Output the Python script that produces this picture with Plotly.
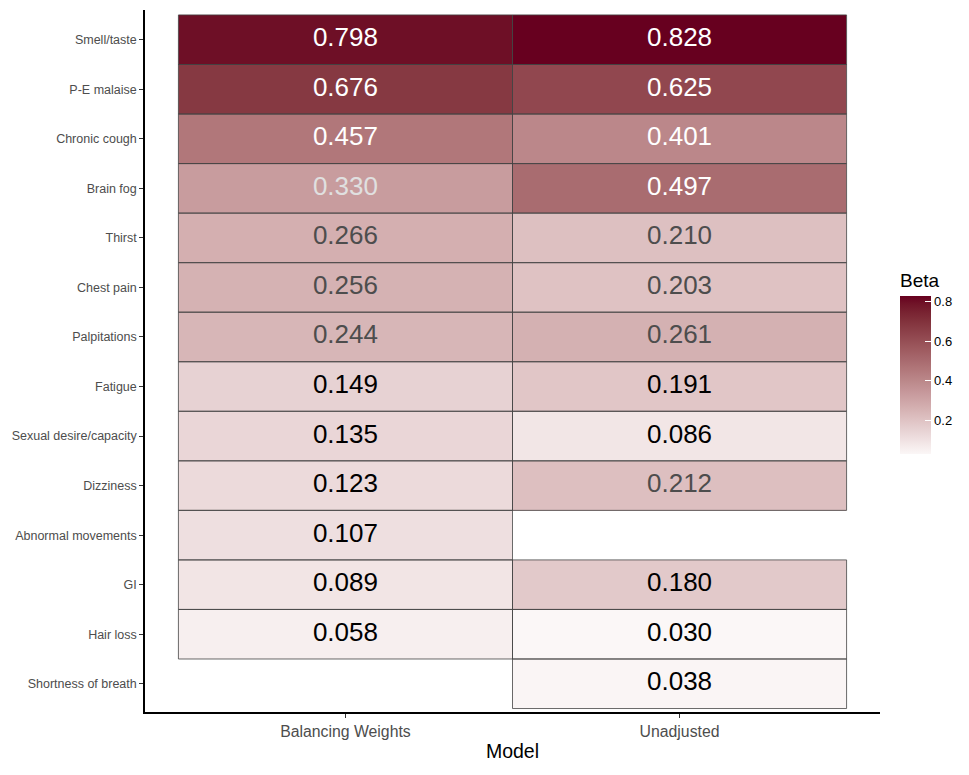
import plotly.graph_objects as go

symptoms = ["Smell/taste", "P-E malaise", "Chronic cough", "Brain fog", "Thirst",
            "Chest pain", "Palpitations", "Fatigue", "Sexual desire/capacity",
            "Dizziness", "Abnormal movements", "GI", "Hair loss", "Shortness of breath"]
models = ["Balancing Weights", "Unadjusted"]
beta_balancing = [0.798, 0.676, 0.457, 0.330, 0.266, 0.256, 0.244, 0.149, 0.135,
                  0.123, 0.107, 0.089, 0.058, None]
beta_unadjusted = [0.828, 0.625, 0.401, 0.497, 0.210, 0.203, 0.261, 0.191, 0.086,
                   0.212, None, 0.180, 0.030, 0.038]
colorbar_ticks = [0.2, 0.4, 0.6, 0.8]

series = [beta_balancing, beta_unadjusted]
vals = [v for s in series for v in s if v is not None]
zmin, zmax = min(vals), max(vals)


# --- Lab interpolation white -> #67001F (ggplot-like gradient) ---
def srgb_to_lin(c):
    c = c / 255
    return c / 12.92 if c <= 0.04045 else ((c + 0.055) / 1.055) ** 2.4


def lin_to_srgb(c):
    c = max(0, min(1, c))
    v = 12.92 * c if c <= 0.0031308 else 1.055 * c ** (1 / 2.4) - 0.055
    return int(round(max(0, min(1, v)) * 255))


WX, WY, WZ = 0.95047, 1.0, 1.08883


def rgb_to_lab(rgb):
    r, g, b = [srgb_to_lin(c) for c in rgb]
    x = 0.4124 * r + 0.3576 * g + 0.1805 * b
    y = 0.2126 * r + 0.7152 * g + 0.0722 * b
    z = 0.0193 * r + 0.1192 * g + 0.9505 * b

    def f(t):
        return t ** (1 / 3) if t > 0.008856 else 7.787 * t + 16 / 116
    fx, fy, fz = f(x / WX), f(y / WY), f(z / WZ)
    return 116 * fy - 16, 500 * (fx - fy), 200 * (fy - fz)


def lab_to_rgb(lab):
    L, a, b = lab
    fy = (L + 16) / 116
    fx = fy + a / 500
    fz = fy - b / 200

    def finv(t):
        return t ** 3 if t ** 3 > 0.008856 else (t - 16 / 116) / 7.787
    x, y, z = WX * finv(fx), WY * finv(fy), WZ * finv(fz)
    r = 3.2406 * x - 1.5372 * y - 0.4986 * z
    g = -0.9689 * x + 1.8758 * y + 0.0415 * z
    bb = 0.0557 * x - 0.2040 * y + 1.0570 * z
    return lin_to_srgb(r), lin_to_srgb(g), lin_to_srgb(bb)


low = rgb_to_lab((255, 255, 255))
high = rgb_to_lab((0x67, 0x00, 0x1F))
t_start = 0.03  # lowest tile is faintly tinted in the reference
colorscale = []
N = 20
for i in range(N + 1):
    s = i / N
    t = t_start + (1 - t_start) * s
    lab = tuple(low[k] + (high[k] - low[k]) * t for k in range(3))
    r, g, b = lab_to_rgb(lab)
    colorscale.append([s, f"rgb({r},{g},{b})"])

yidx = list(range(len(symptoms)))
xidx = list(range(len(models)))
z = [[series[j][i] for j in xidx] for i in yidx]

# page body has an 8px default margin; compensate so plot area lands at target pixels
OFF = 8
ML, MT = 145 - OFF, 10 - OFF
MR, MB = 969 - (880 - OFF), 775 - (712 - OFF)
PW, PH = 969 - ML - MR, 775 - MT - MB

fig = go.Figure()
fig.add_trace(go.Heatmap(
    x=xidx, y=yidx, z=z, zmin=zmin, zmax=zmax, colorscale=colorscale,
    hoverongaps=False,
    colorbar=dict(
        title=dict(text="Beta", side="top", font=dict(size=19, color="black")),
        thickness=31, len=184 / PH, lenmode="fraction",
        x=(900 - 145) / PW, xanchor="left", xpad=0,
        y=(712 - 270) / PH, yanchor="top", ypad=0,
        outlinewidth=0, tickvals=colorbar_ticks, ticktext=[f"{t:.1f}" for t in colorbar_ticks],
        ticks="inside", ticklen=6, tickcolor="white", tickwidth=1,
        tickfont=dict(size=13, color="black"),
    ),
))


def text_color(v):
    if v >= 0.4:
        return "white"
    if v >= 0.3:
        return "#e0e0e0"
    if v >= 0.2:
        return "#4d4d4d"
    return "black"


tx, ty, tt, tc = [], [], [], []
for j in xidx:
    for i in yidx:
        v = series[j][i]
        if v is None:
            continue
        tx.append(j)
        ty.append(i)
        tt.append(f"{v:.3f}")
        tc.append(text_color(v))
        fig.add_shape(type="rect", x0=j - 0.5, x1=j + 0.5, y0=i - 0.5, y1=i + 0.5,
                      xref="x", yref="y", line=dict(color="#444444", width=0.8),
                      fillcolor="rgba(0,0,0,0)", layer="above")

fig.add_trace(go.Scatter(x=tx, y=ty, text=tt, mode="text",
                         textfont=dict(size=26, color=tc, family="Liberation Sans, Arial"),
                         hoverinfo="skip", showlegend=False))

fig.update_layout(
    width=969, height=775,
    margin=dict(l=ML, r=MR, t=MT, b=MB, autoexpand=False),
    paper_bgcolor="white", plot_bgcolor="white",
    font=dict(family="Liberation Sans, Arial, sans-serif"),
    showlegend=False,
)
fig.update_xaxes(
    range=[-0.6, 1.6], tickvals=xidx, ticktext=models, automargin=False,
    showline=True, linecolor="black", linewidth=1.5, showgrid=False, zeroline=False,
    ticks="outside", ticklen=4, tickcolor="#333333",
    tickfont=dict(size=15.8, color="#4d4d4d"),
    title=dict(text="Model", font=dict(size=19.5, color="black"), standoff=6),
)
fig.update_yaxes(
    range=[len(symptoms) - 1 + 0.57, -0.6], tickvals=yidx, ticktext=symptoms, automargin=False,
    showline=True, linecolor="black", linewidth=1.5, showgrid=False, zeroline=False,
    ticks="outside", ticklen=4, tickcolor="#333333",
    tickfont=dict(size=12.5, color="#4d4d4d"),
)

fig.write_html("out.html")
